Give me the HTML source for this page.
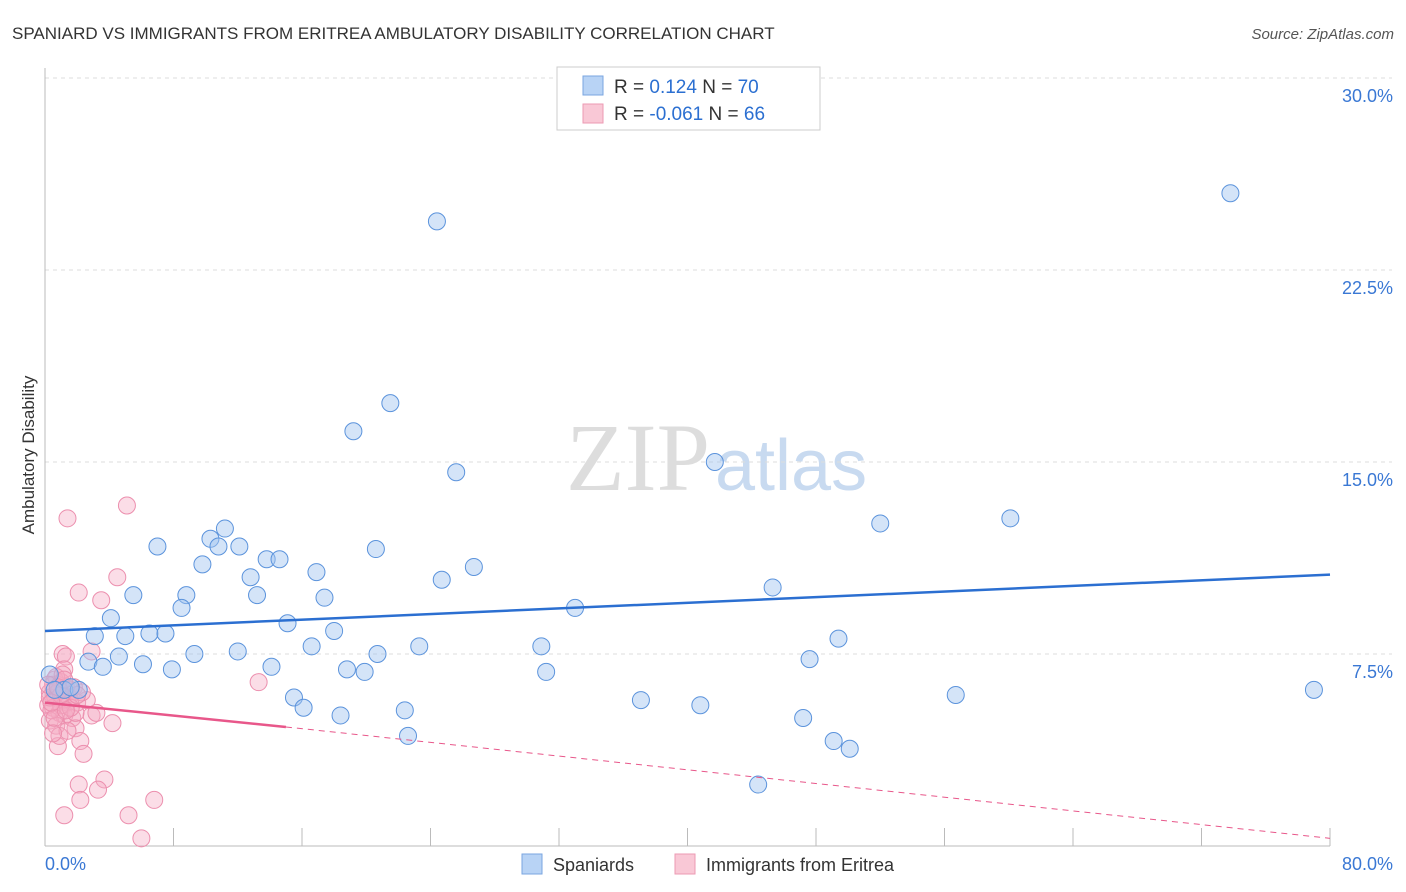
<!DOCTYPE html>
<html><head><meta charset="utf-8"><style>
body{margin:0;background:#fff;font-family:"Liberation Sans",sans-serif}
svg{display:block}
</style></head><body>
<svg id="c" width="1406" height="892" xmlns="http://www.w3.org/2000/svg">
<text x="12" y="39" font-size="17" fill="#333">SPANIARD VS IMMIGRANTS FROM ERITREA AMBULATORY DISABILITY CORRELATION CHART</text>
<text x="1394" y="39" font-size="15" fill="#555" text-anchor="end" font-style="italic">Source: ZipAtlas.com</text>
<text x="710" y="490" font-size="96" fill="#ddd" text-anchor="end" font-family="Liberation Serif">ZIP</text>
<text x="715" y="490" font-size="72" fill="#c8daf0">atlas</text>
<text transform="translate(34,455) rotate(-90)" font-size="17" fill="#333" text-anchor="middle">Ambulatory Disability</text>
<g id="grid"></g><g id="marks"></g>
<g>
<rect x="557" y="67" width="263" height="63" fill="#fff" stroke="#ccc"/>
<rect x="583" y="76" width="20" height="19" fill="#b8d3f5" stroke="#7aa6e0"/>
<rect x="583" y="104" width="20" height="19" fill="#f9c8d6" stroke="#ec9ab3"/>
<text x="614" y="93" font-size="19" fill="#333">R = <tspan fill="#2b6fd1">  0.124</tspan>   N = <tspan fill="#2b6fd1">70</tspan></text>
<text x="614" y="120" font-size="19" fill="#333">R = <tspan fill="#2b6fd1">-0.061</tspan>   N = <tspan fill="#2b6fd1">66</tspan></text>
</g>
<g>
<rect x="522" y="854" width="20" height="20" fill="#b8d3f5" stroke="#7aa6e0"/>
<text x="553" y="871" font-size="18" fill="#333">Spaniards</text>
<rect x="675" y="854" width="20" height="20" fill="#f9c8d6" stroke="#ec9ab3"/>
<text x="706" y="871" font-size="18" fill="#333">Immigrants from Eritrea</text>
</g>
</svg>
<script>
const yTicks=[7.5,15,22.5,30];
const yTickLabels=["7.5%","15.0%","22.5%","30.0%"];
const xTickLabels=["0.0%","80.0%"];
const blueX=[24.4,73.8,21.5,19.2,25.6,41.7,52.0,60.1,11.2,10.3,7.0,12.1,10.8,20.6,13.8,14.6,9.8,26.7,16.9,12.8,24.7,45.3,5.5,8.8,13.2,17.4,8.5,33.0,4.1,15.1,18.0,3.1,5.0,6.5,7.5,49.4,12.0,16.6,23.3,30.9,9.3,20.7,4.6,2.7,6.1,47.6,3.6,7.9,14.1,18.8,19.9,31.2,1.2,2.1,79.0,56.7,15.5,37.1,16.1,40.8,22.4,18.4,47.2,22.6,49.1,50.1,44.4,0.3,0.6,1.6];
const blueY=[24.4,25.5,17.3,16.2,14.6,15.0,12.6,12.8,12.4,12.0,11.7,11.7,11.7,11.6,11.2,11.2,11.0,10.9,10.7,10.5,10.4,10.1,9.8,9.8,9.8,9.7,9.3,9.3,8.9,8.7,8.4,8.2,8.2,8.3,8.3,8.1,7.6,7.8,7.8,7.8,7.5,7.5,7.4,7.2,7.1,7.3,7.0,6.9,7.0,6.9,6.8,6.8,6.1,6.1,6.1,5.9,5.8,5.7,5.4,5.5,5.3,5.1,5.0,4.3,4.1,3.8,2.4,6.7,6.1,6.2];
const pinkX=[5.1,1.4,4.5,2.1,3.5,1.1,1.3,2.9,13.3,1.2,0.6,1.0,1.3,1.6,0.3,0.6,1.1,1.4,0.2,0.5,0.9,1.2,1.7,0.3,0.7,2.9,3.2,4.2,1.9,2.2,0.8,2.4,0.9,3.7,2.1,3.3,2.2,6.8,1.2,5.2,6.0,0.5,0.8,1.5,2.0,1.0,0.4,1.8,2.6,0.7,1.1,0.3,1.9,0.6,1.4,2.3,0.9,0.2,1.6,1.0,0.5,1.3,2.0,0.8,1.2,0.4];
const pinkY=[13.3,12.8,10.5,9.9,9.6,7.5,7.4,7.6,6.4,6.9,6.5,6.4,6.2,6.1,6.0,5.9,5.7,5.6,5.5,5.4,5.2,5.1,5.0,4.9,4.7,5.1,5.2,4.8,4.6,4.1,3.9,3.6,4.3,2.6,2.4,2.2,1.8,1.8,1.2,1.2,0.3,6.3,6.0,5.8,5.6,5.5,5.3,6.2,5.7,6.6,6.7,5.8,5.2,5.0,4.5,6.0,6.1,6.3,5.4,5.9,4.4,5.3,5.9,6.2,6.5,5.6];
const blueTrend=[[0,8.4],[80,10.6]];
const pinkSolid=[[0,5.6],[15,4.65]];
const pinkDash=[[15,4.65],[80,0.3]];
const ns="http://www.w3.org/2000/svg";
const X=v=>45+v/80*1285, Y=v=>846-v/7.5*192;
function mk(t,a,p){const e=document.createElementNS(ns,t);for(const k in a)e.setAttribute(k,a[k]);p.appendChild(e);return e;}
const g=document.getElementById('grid'),m=document.getElementById('marks');
yTicks.forEach((t,i)=>{
 const l=mk('line',{x1:45,x2:1392,y1:Y(t),y2:Y(t),stroke:'#ddd','stroke-dasharray':'4,4'},g);
 
 
 const tx=mk('text',{x:1393,y:Y(t)+24,'font-size':18,fill:'#3a78d4','text-anchor':'end'},g);
 tx.textContent=yTickLabels[i];
 
 
});
let ax=mk('line',{x1:45,x2:45,y1:68,y2:846,stroke:'#bbb'},g);


ax=mk('line',{x1:45,x2:1330,y1:846,y2:846,stroke:'#bbb'},g);


for(let i=1;i<=10;i++){const xx=X(i*8);const t=mk('line',{x1:xx,x2:xx,y1:828,y2:846,stroke:'#bbb'},g);
 
 }
[[0,'start',45],[80,'end',1393]].forEach((d,i)=>{const t=mk('text',{x:d[2],y:870,'font-size':18,fill:'#3a78d4','text-anchor':d[1]},g);t.textContent=xTickLabels[i];
 
 });
pinkX.forEach((x,i)=>{const c=mk('circle',{cx:X(x),cy:Y(pinkY[i]),r:8.5,fill:'rgba(246,170,195,0.4)',stroke:'#ec8fae','stroke-width':1},m);
 
 });
blueX.forEach((x,i)=>{const c=mk('circle',{cx:X(x),cy:Y(blueY[i]),r:8.5,fill:'rgba(160,195,240,0.45)',stroke:'#5b93dc','stroke-width':1},m);
 
 });
let l=mk('line',{x1:X(blueTrend[0][0]),y1:Y(blueTrend[0][1]),x2:X(blueTrend[1][0]),y2:Y(blueTrend[1][1]),stroke:'#2b6fd1','stroke-width':2.5},m);


l=mk('line',{x1:X(pinkSolid[0][0]),y1:Y(pinkSolid[0][1]),x2:X(pinkSolid[1][0]),y2:Y(pinkSolid[1][1]),stroke:'#e8578a','stroke-width':2.5},m);


l=mk('line',{x1:X(pinkDash[0][0]),y1:Y(pinkDash[0][1]),x2:X(pinkDash[1][0]),y2:Y(pinkDash[1][1]),stroke:'#e8578a','stroke-width':1,'stroke-dasharray':'6,5'},m);


</script>
</body></html>
